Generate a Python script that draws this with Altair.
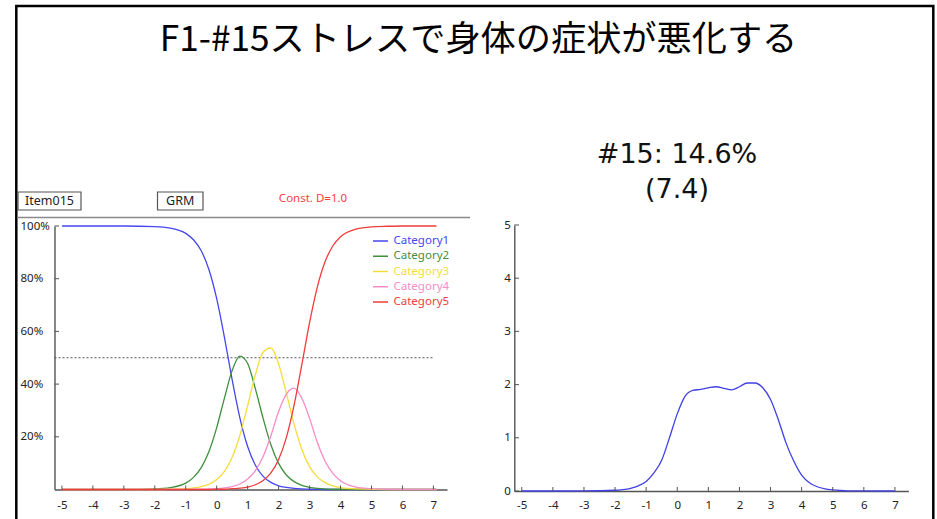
import altair as alt
import pandas as pd

# ---- text -------------------------------------------------------------
TITLE = "F1-#15ストレスで身体の症状が悪化する"
ITEM_LABEL = "Item015"
MODEL_LABEL = "GRM"
CONST_LABEL = "Const. D=1.0"
INFO_TITLE_1 = "#15: 14.6%"
INFO_TITLE_2 = "(7.4)"

# ---- category response curves (left panel) -----------------------------
CATEGORIES = ["Category1", "Category2", "Category3", "Category4", "Category5"]
COLORS = ["#4646f0", "#3f8f3f", "#f5dc3c", "#f58cc8", "#f03c3c"]

THETA = [-5, -4, -3, -2, -1.5, -1, -0.75, -0.5, -0.25, 0, 0.25, 0.5, 0.75, 1,
         1.25, 1.5, 1.75, 2, 2.25, 2.5, 2.75, 3, 3.25, 3.5, 3.75, 4, 4.5, 5,
         5.5, 6, 7.1]
CAT1 = [1.000, 1.000, 1.000, 0.998, 0.992, 0.972, 0.948, 0.906, 0.834, 0.724,
        0.577, 0.416, 0.271, 0.163, 0.092, 0.050, 0.027, 0.014, 0.008, 0.004,
        0.002, 0.001, 0.001, 0.000, 0.000, 0.000, 0.000, 0.000, 0.000, 0.000,
        0.000]
CAT2 = [0.000, 0.000, 0.000, 0.002, 0.007, 0.024, 0.046, 0.083, 0.144, 0.235,
        0.347, 0.452, 0.506, 0.478, 0.382, 0.270, 0.170, 0.099, 0.055, 0.030,
        0.016, 0.008, 0.004, 0.002, 0.001, 0.001, 0.000, 0.000, 0.000, 0.000,
        0.000]
CAT3 = [0.000, 0.000, 0.000, 0.000, 0.001, 0.003, 0.006, 0.011, 0.020, 0.038,
        0.069, 0.122, 0.206, 0.318, 0.436, 0.521, 0.537, 0.476, 0.366, 0.248,
        0.152, 0.087, 0.048, 0.026, 0.014, 0.007, 0.002, 0.001, 0.000, 0.000,
        0.000]
CAT4 = [0.000, 0.000, 0.000, 0.000, 0.000, 0.000, 0.001, 0.001, 0.002, 0.003,
        0.006, 0.011, 0.021, 0.040, 0.072, 0.125, 0.204, 0.296, 0.362, 0.385,
        0.346, 0.270, 0.179, 0.108, 0.061, 0.033, 0.009, 0.003, 0.001, 0.000,
        0.000]
CAT5 = [0.000, 0.000, 0.000, 0.000, 0.000, 0.000, 0.000, 0.000, 0.000, 0.001,
        0.001, 0.003, 0.005, 0.009, 0.018, 0.034, 0.063, 0.114, 0.197, 0.320,
        0.474, 0.633, 0.768, 0.864, 0.924, 0.959, 0.988, 0.997, 0.999, 1.000,
        1.000]
REF_LEVEL = 0.5
REF_END = 7.0

# ---- item information (right panel) ------------------------------------
INFO_THETA = [-5, -4, -3, -2, -1.75, -1.5, -1.25, -1, -0.75, -0.5, -0.25, 0,
              0.25, 0.5, 0.75, 1, 1.25, 1.5, 1.75, 2, 2.25, 2.5, 2.75, 3, 3.25,
              3.5, 3.75, 4, 4.25, 4.5, 4.75, 5, 5.25, 5.5, 6, 7]
INFO = [0.0, 0.0, 0.001, 0.014, 0.026, 0.05, 0.097, 0.18, 0.34, 0.58, 1.0,
        1.45, 1.78, 1.89, 1.91, 1.94, 1.96, 1.93, 1.90, 1.96, 2.03, 2.03,
        1.94, 1.72, 1.34, 0.90, 0.56, 0.30, 0.155, 0.08, 0.04, 0.02, 0.009,
        0.004, 0.001, 0.0]

# ---- axis ticks --------------------------------------------------------
THETA_TICKS = list(range(-5, 8))
PCT_TICKS = [0.2, 0.4, 0.6, 0.8, 1.0]
INFO_TICKS = [0, 1, 2, 3, 4, 5]

LABEL_FONT = "Noto Sans"

# ---- tables ------------------------------------------------------------
series = [CAT1, CAT2, CAT3, CAT4, CAT5]
icc_df = pd.DataFrame([
    {"theta": t, "p": v, "category": c}
    for c, vals in zip(CATEGORIES, series)
    for t, v in zip(THETA, vals)
])
info_df = pd.DataFrame({"theta": INFO_THETA, "info": INFO})
legend_df = pd.DataFrame({"category": CATEGORIES})
ref_df = pd.DataFrame({"level": [REF_LEVEL], "x0": [-5.24], "x1": [REF_END]})
theta_tick_df = pd.DataFrame({"t": THETA_TICKS})
pct_tick_df = pd.DataFrame({"v": PCT_TICKS})
info_tick_df = pd.DataFrame({"v": INFO_TICKS})
one = pd.DataFrame({"k": [0]})

# ---- scales: both panels share one canvas ------------------------------
XL = alt.Scale(domain=[-5.24, 7.44], range=[54.5, 447], nice=False, zero=False)
YL = alt.Scale(domain=[0, 1], range=[489.5, 226], nice=False, zero=False)
XR = alt.Scale(domain=[-5.24, 7.43], range=[514.3, 908.3], nice=False, zero=False)
YR = alt.Scale(domain=[0, 5], range=[491, 225], nice=False, zero=False)
CAT_COLOR = alt.Scale(domain=CATEGORIES, range=COLORS)
LEG_Y = alt.Scale(type="point", domain=CATEGORIES, range=[241, 302], padding=0)

axis_common = dict(
    grid=False, title=None, ticks=False, tickSize=0, domainColor="#555555",
    domainWidth=1.4, labelFont=LABEL_FONT, labelColor="#222222",
    labelFontSize=11.5, labelOverlap=False, labelFlush=False,
)
# plain hyphen-minus for negative tick labels
INT_LABEL = "'' + datum.value"

# outer frame
frame = alt.Chart(one).mark_rect(filled=False, stroke="black", strokeWidth=2.5).encode(
    x=alt.value(16.3), x2=alt.value(933.3), y=alt.value(5.9), y2=alt.value(560)
)

title = alt.Chart(one).mark_text(
    text=TITLE, font="Noto Sans CJK JP", fontSize=35.2, align="center",
    baseline="alphabetic", color="black"
).encode(x=alt.value(478.5), y=alt.value(51))

# header of the left panel
header_line = alt.Chart(one).mark_rule(color="#8a8a8a", strokeWidth=1.5).encode(
    x=alt.value(17), x2=alt.value(470), y=alt.value(217.5)
)
item_box = alt.Chart(one).mark_rect(filled=False, stroke="#555555", strokeWidth=1.2).encode(
    x=alt.value(18), x2=alt.value(81), y=alt.value(192), y2=alt.value(210)
)
item_text = alt.Chart(one).mark_text(
    text=ITEM_LABEL, font=LABEL_FONT, fontSize=12.5, color="#222222",
    align="center", baseline="middle"
).encode(x=alt.value(49.5), y=alt.value(201))
model_box = alt.Chart(one).mark_rect(filled=False, stroke="#555555", strokeWidth=1.2).encode(
    x=alt.value(157.5), x2=alt.value(203), y=alt.value(192), y2=alt.value(210)
)
model_text = alt.Chart(one).mark_text(
    text=MODEL_LABEL, font=LABEL_FONT, fontSize=12.5, color="#222222",
    align="center", baseline="middle"
).encode(x=alt.value(180.2), y=alt.value(201))
const_text = alt.Chart(one).mark_text(
    text=CONST_LABEL, font=LABEL_FONT, fontSize=11.5, color="#ff3c3c",
    align="center", baseline="middle"
).encode(x=alt.value(313), y=alt.value(199))

# left panel: 50% reference, curves, ticks, legend
ref_line = alt.Chart(ref_df).mark_rule(color="#555555", strokeWidth=1, strokeDash=[2, 2]).encode(
    x=alt.X("x0:Q", scale=XL, axis=None), x2="x1:Q",
    y=alt.Y("level:Q", scale=YL, axis=None)
)
icc = alt.Chart(icc_df).mark_line(strokeWidth=1.3, interpolate="monotone").encode(
    x=alt.X("theta:Q", scale=XL, axis=alt.Axis(
        orient="bottom", offset=-29.5, values=THETA_TICKS, labelExpr=INT_LABEL,
        labelPadding=10, **axis_common)),
    y=alt.Y("p:Q", scale=YL, axis=alt.Axis(
        orient="left", offset=-54.5, values=PCT_TICKS, format=".0%",
        labelAlign="left", labelPadding=34.5, **axis_common)),
    color=alt.Color("category:N", scale=CAT_COLOR, legend=None),
)
left_xticks = alt.Chart(theta_tick_df).mark_rule(color="#555555", strokeWidth=1).encode(
    x=alt.X("t:Q", scale=XL, axis=None), y=alt.value(489.5), y2=alt.value(485.5)
)
left_yticks = alt.Chart(pct_tick_df).mark_rule(color="#555555", strokeWidth=1).encode(
    y=alt.Y("v:Q", scale=YL, axis=None), x=alt.value(54.5), x2=alt.value(59)
)
legend_marks = alt.Chart(legend_df).mark_rule(strokeWidth=1.5).encode(
    y=alt.Y("category:N", scale=LEG_Y, axis=None),
    x=alt.value(373), x2=alt.value(388),
    color=alt.Color("category:N", scale=CAT_COLOR, legend=None),
)
legend_text = alt.Chart(legend_df).mark_text(
    font=LABEL_FONT, fontSize=11.5, align="left", baseline="middle"
).encode(
    y=alt.Y("category:N", scale=LEG_Y, axis=None),
    x=alt.value(393.5),
    text="category:N",
    color=alt.Color("category:N", scale=CAT_COLOR, legend=None),
)

# right panel: information curve
info_line = alt.Chart(info_df).mark_line(
    strokeWidth=1.3, interpolate="monotone", color="#4040e6"
).encode(
    x=alt.X("theta:Q", scale=XR, axis=alt.Axis(
        orient="bottom", offset=-28, values=THETA_TICKS, labelExpr=INT_LABEL,
        labelPadding=8.5, **axis_common)),
    y=alt.Y("info:Q", scale=YR, axis=alt.Axis(
        orient="left", offset=-514.3, values=INFO_TICKS, labelExpr=INT_LABEL,
        labelPadding=4, **axis_common)),
)
right_xticks = alt.Chart(theta_tick_df).mark_rule(color="#555555", strokeWidth=1).encode(
    x=alt.X("t:Q", scale=XR, axis=None), y=alt.value(491), y2=alt.value(487)
)
right_yticks = alt.Chart(info_tick_df).mark_rule(color="#555555", strokeWidth=1).encode(
    y=alt.Y("v:Q", scale=YR, axis=None), x=alt.value(514.3), x2=alt.value(519)
)
info_title_1 = alt.Chart(one).mark_text(
    text=INFO_TITLE_1, font="DejaVu Sans", fontSize=27, color="#111111",
    align="center", baseline="alphabetic"
).encode(x=alt.value(677), y=alt.value(163))
info_title_2 = alt.Chart(one).mark_text(
    text=INFO_TITLE_2, font="DejaVu Sans", fontSize=27, color="#111111",
    align="center", baseline="alphabetic"
).encode(x=alt.value(677), y=alt.value(198))

chart = alt.layer(
    frame, title, header_line, item_box, item_text, model_box, model_text,
    const_text, ref_line, icc, left_xticks, left_yticks, legend_marks,
    legend_text, info_line, right_xticks, right_yticks, info_title_1,
    info_title_2,
).resolve_scale(
    x="independent", y="independent"
).properties(
    width=937, height=519, padding=0,
    autosize=alt.AutoSizeParams(type="none"),
    background="white",
).configure_view(stroke=None)

chart.save("out.html", embed_options={"renderer": "svg", "actions": False})
